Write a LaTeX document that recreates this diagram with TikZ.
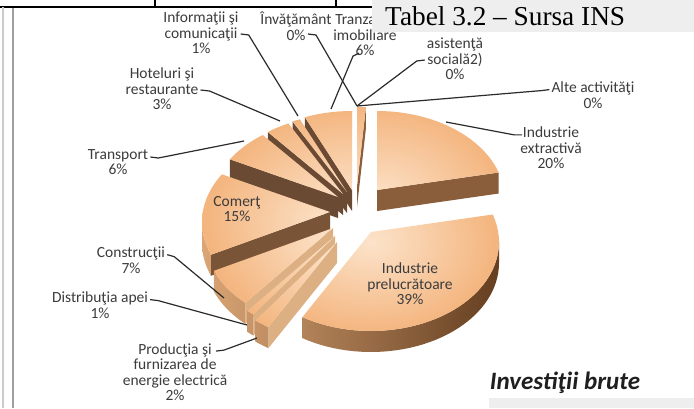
\documentclass[tikz,border=0pt]{standalone}
\usepackage{fontspec}
\setmainfont{Carlito}
\newfontfamily\tnr{Liberation Serif}
\usetikzlibrary{calc}
\definecolor{topin}{HTML}{FCE3CA}
\definecolor{topout}{HTML}{F2AC70}
\definecolor{rimL}{HTML}{DDA878}
\definecolor{rimR}{HTML}{5E391C}
\definecolor{fanD}{HTML}{6A4A33}
\definecolor{comD}{HTML}{7A5437}
\definecolor{extD}{HTML}{8B5E3B}
\definecolor{lowD}{HTML}{DDB083}
\definecolor{labgray}{HTML}{3C3C3C}
\definecolor{leadc}{HTML}{2B2B2B}
\definecolor{boxgray}{HTML}{EEEEEE}
% vx vy a1 a2
\newcommand{\slicetop}[4]{%
  \begin{scope}
    \clip (#1,#2) -- plot[domain=#3:#4,samples=40,variable=\ang]({#1+128*cos(\ang)},{#2+10-89*sin(\ang)}) -- cycle;
    \shade[inner color=topin, outer color=topout] (#1,#2+10) ellipse[x radius=150pt, y radius=110pt];
  \end{scope}}
% vx vy a colour
\newcommand{\radface}[4]{%
  \fill[#4] (#1,#2) -- ({#1+128*cos(#3)},{#2+10-89*sin(#3)}) -- ({#1+128*cos(#3)},{#2+31-89*sin(#3)}) -- (#1,#2+21) -- cycle;}
% vx vy b1 b2
\newcommand{\rimface}[4]{%
  \begin{scope}
    \clip plot[domain=#3:#4,samples=40,variable=\ang]({#1+128*cos(\ang)},{#2+10-89*sin(\ang)}) -- plot[domain=#4:#3,samples=40,variable=\ang]({#1+128*cos(\ang)},{#2+31-89*sin(\ang)}) -- cycle;
    \shade[left color=rimL, right color=rimR] (195,90) rectangle (515,380);
  \end{scope}}
\begin{document}
\begin{tikzpicture}[x=1pt,y=-1pt,
  lab/.style={font=\fontsize{15.5}{15.5}\selectfont, text=labgray, align=center, inner sep=0pt},
  lead/.style={draw=leadc, line width=1.2pt},
  frameline/.style={draw=black, line width=2pt}]
\useasboundingbox (0,0) rectangle (694,408);
\fill[white] (0,0) rectangle (694,408);

% table frame remnants
\draw[frameline] (0,6.5) -- (372,6.5);
\draw[black, line width=1.5pt] (155,0) -- (155,6.5);
\draw[black, line width=1.5pt] (336,0) -- (336,6.5);
\draw[gray!40, line width=2pt] (3,7) -- (3,408);
\draw[gray!75, line width=2pt] (12.5,8) -- (12.5,408);

% ---- pie (back to front) ----
% zero slices sliver
\radface{357}{186}{86}{extD}
\slicetop{357}{186}{86}{90}
% Tranzactii imobiliare
\radface{352}{190}{111.6}{fanD}
\slicetop{352}{190}{90}{111.6}
% Informatii
\radface{347}{192}{115.2}{fanD}
\slicetop{347}{192}{111.6}{115.2}
% Hoteluri
\radface{343}{194}{126}{fanD}
\slicetop{343}{194}{115.2}{126}
% Transport
\radface{338}{197}{147.6}{fanD}
\slicetop{338}{197}{126}{147.6}
% Industrie extractiva
\radface{377}{190}{18}{extD}
\slicetop{377}{190}{18}{90}
% Comert
\radface{330}{212}{201.6}{comD}
\rimface{330}{212}{180}{201.6}
\slicetop{330}{212}{147.6}{201.6}
% Constructii
\radface{333}{228}{226.8}{lowD}
\rimface{333}{228}{201.6}{226.8}
\slicetop{333}{228}{201.6}{226.8}
% Distributia apei
\radface{335}{236}{230.4}{lowD}
\rimface{335}{236}{226.8}{230.4}
\slicetop{335}{236}{226.8}{230.4}
% Productia energie
\radface{337}{242}{237.6}{lowD}
\rimface{337}{242}{230.4}{237.6}
\slicetop{337}{242}{230.4}{237.6}
% Industrie prelucratoare
\rimface{371}{232}{237.6}{360}
\slicetop{371}{232}{237.6}{378}

% ---- labels ----
\node[lab] (inf) at (201,33) {Informaţii şi\\comunicaţii\\1\%};
\node[lab] (inv) at (296,26) {Învăţământ\\0\%};
\node[lab] (tra) at (365,35) {Tranzacţii\\imobiliare\\6\%};
\node[lab] (san) at (455,59) {asistenţă\\socială2)\\0\%};
\node[lab] (alt) at (593,95) {Alte activităţi\\0\%};
\node[lab] (hot) at (162,89) {Hoteluri şi\\restaurante\\3\%};
\node[lab] (trn) at (118,162) {Transport\\6\%};
\node[lab] (com) at (237,209) {Comerţ\\15\%};
\node[lab] (con) at (131,260) {Construcţii\\7\%};
\node[lab] (dis) at (100,305) {Distribuţia apei\\1\%};
\node[lab] (pro) at (175,372) {Producţia şi\\furnizarea de\\energie electrică\\2\%};
\node[lab] (ext) at (551,148) {Industrie\\extractivă\\20\%};
\node[lab] (pre) at (410,284) {Industrie\\prelucrătoare\\39\%};

% ---- leader lines ----
\coordinate (zeroE) at (357,106);
\coordinate (infE) at (298,116);
\coordinate (tranE) at (331,109);
\coordinate (hotE) at (280,121);
\coordinate (trnE) at (244,141);
\coordinate (conE) at (224,298);
\coordinate (disE) at (247,325);
\coordinate (proE) at (257,338);
\coordinate (extE) at (446,122);

\draw[lead] ($(inf.east)+(2,1)$) -- ++(8,1) -- (infE);
\draw[lead] ($(inv.center)+(12,8)$) -- ++(8,1) -- (zeroE);
\draw[lead] ($(tra.south)+(-6,-3)$) -- ++(-6,3) -- (tranE);
\draw[lead] ($(san.west)+(-2,1)$) -- ++(-8,1) -- (zeroE);
\draw[lead] ($(alt.north west)+(-2,8)$) -- ++(-8,1) -- (zeroE);
\draw[lead] ($(hot.east)+(2,1)$) -- ++(9,1) -- (hotE);
\draw[lead] ($(trn.north east)+(2,8)$) -- ++(8,1) -- (trnE);
\draw[lead] ($(con.north east)+(2,8)$) -- ++(7,2) -- (conE);
\draw[lead] ($(dis.north east)+(2,8)$) -- ++(8,1) -- (disE);
\draw[lead] ($(pro.north)+(41,8)$) -- ++(8,-1) -- (proE);
\draw[lead] ($(ext.north)+(-29,8)$) -- ++(-8,0) -- (extE);

% ---- boxes and titles ----
\fill[boxgray] (372,0) rectangle (694,32);
\node[font=\tnr\fontsize{27.3}{30}\selectfont, anchor=west, inner sep=0pt] (tabel) at (385,16) {Tabel 3.2 – Sursa INS};
\fill[boxgray] (489,398) rectangle (694,408);
\node[font=\fontsize{25}{30}\selectfont\bfseries\itshape, text=black!88, inner sep=0pt] (title) at (565,383) {Investiţii brute};
\end{tikzpicture}
\end{document}
